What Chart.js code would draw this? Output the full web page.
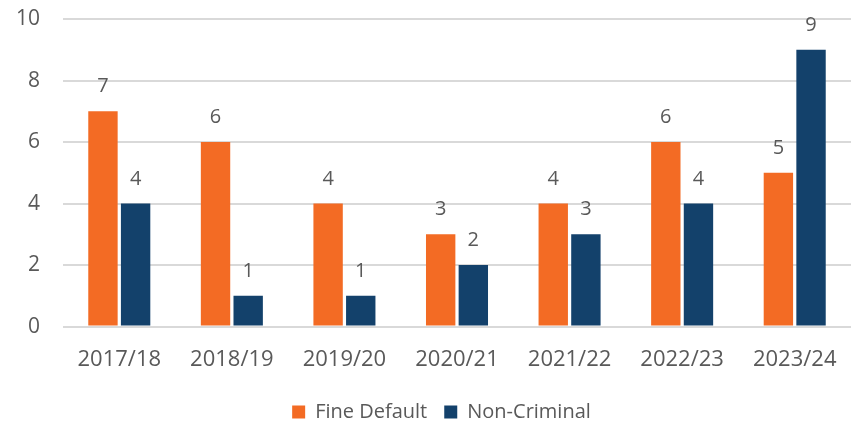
<!DOCTYPE html>
<html>
<head>
<meta charset="utf-8">
<script src="https://cdn.jsdelivr.net/npm/chart.js@4/dist/chart.umd.min.js"></script>
<style>
  html, body { margin: 0; padding: 0; background: #fff; }
  #wrap { width: 851px; height: 422px; position: relative; }
</style>
</head>
<body>
<div id="wrap"><canvas id="chart"></canvas></div>
<script>
const years = ["2017/18", "2018/19", "2019/20", "2020/21", "2021/22", "2022/23", "2023/24"];
const fineDefault = [7, 6, 4, 3, 4, 6, 5];
const nonCriminal = [4, 1, 1, 2, 3, 4, 9];

const textColor = "#595959";
const fontFamily = "'Open Sans', 'Liberation Sans', sans-serif";

// draws the value above each bar
const barLabels = {
  id: "barLabels",
  afterDatasetsDraw(chart) {
    const ctx = chart.ctx;
    ctx.save();
    ctx.fillStyle = textColor;
    ctx.font = `20px ${fontFamily}`;
    ctx.textAlign = "center";
    ctx.textBaseline = "alphabetic";
    chart.data.datasets.forEach((ds, i) => {
      chart.getDatasetMeta(i).data.forEach((bar, j) => {
        ctx.fillText(String(ds.data[j]), bar.x, bar.y - 19);
      });
    });
    ctx.restore();
  },
};

new Chart(document.getElementById("chart"), {
  type: "bar",
  data: {
    labels: years,
    datasets: [
      { label: "Fine Default", data: fineDefault, backgroundColor: "#F36B24" },
      { label: "Non-Criminal", data: nonCriminal, backgroundColor: "#13416B" },
    ],
  },
  options: {
    responsive: true,
    maintainAspectRatio: false,
    animation: false,
    categoryPercentage: 0.58,
    barPercentage: 0.9,
    layout: { padding: { left: 0, right: -32, top: 19, bottom: -10 } },
    plugins: {
      legend: {
        position: "bottom",
        labels: {
          color: textColor,
          font: { family: fontFamily, size: 20 },
          boxWidth: 13,
          boxHeight: 13,
          padding: 17,
        },
      },
      tooltip: { enabled: false },
    },
    scales: {
      x: {
        grid: { display: false },
        border: { display: false },
        ticks: { color: textColor, font: { family: fontFamily, size: 22 }, padding: 12 },
      },
      y: {
        min: 0,
        max: 10,
        afterFit: (scale) => {
          scale.width = 63;
          scale.paddingTop = 0;
          scale.paddingBottom = 0;
        },
        ticks: { stepSize: 2, color: textColor, font: { family: fontFamily, size: 21 }, padding: 23 },
        grid: { color: "#D9D9D9", lineWidth: 2, drawTicks: false },
        border: { display: false },
      },
    },
  },
  plugins: [barLabels],
});
</script>
</body>
</html>
